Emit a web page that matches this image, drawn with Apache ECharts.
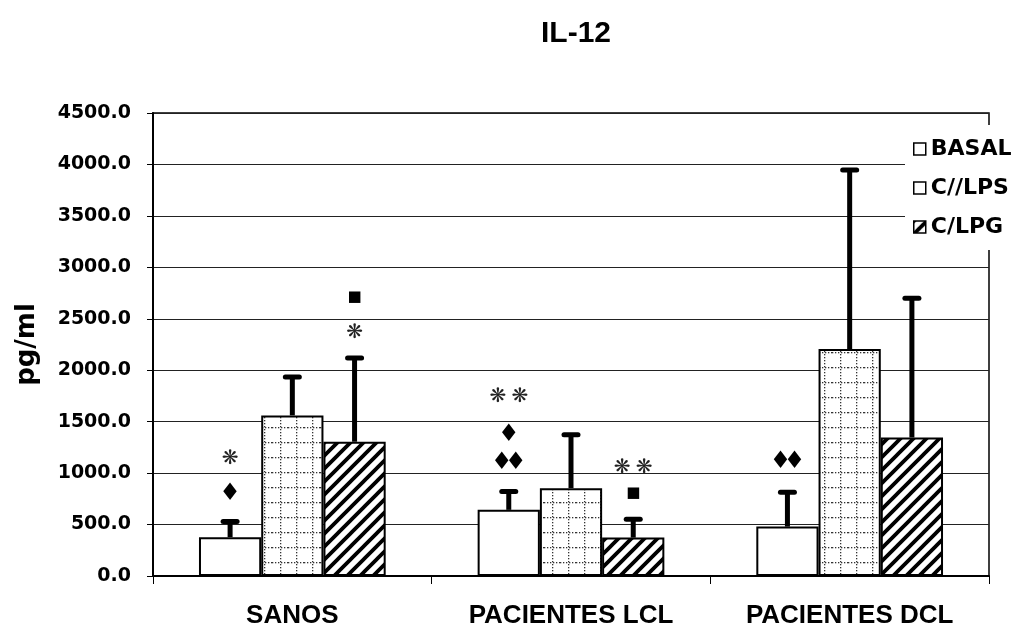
<!DOCTYPE html>
<html>
<head>
<meta charset="utf-8">
<script src="https://cdn.jsdelivr.net/npm/echarts@6/dist/echarts.min.js"></script>
<style>html,body{margin:0;padding:0;background:#fff}#chart{width:1021px;height:627px}</style>
</head>
<body>
<div id="chart"></div>
<script>
// ---- data ----
const categories = ['SANOS', 'PACIENTES LCL', 'PACIENTES DCL'];
const seriesNames = ['BASAL', 'C//LPS', 'C/LPG'];
const basal = [377, 643, 480];
const lps = [1561, 854, 2207];
const lpg = [1305, 373, 1347];
const basalErrTop = [529, 821, 815];
const lpsErrTop = [1935, 1373, 3947];
const lpgErrTop = [2120, 552, 2700];
// annotations: [categoryIndex, seriesIndex, value, text]
const annotations = [
  [0, 0, 798, '♦'],
  [0, 0, 1139, '❋'],
  [0, 2, 2366, '❋'],
  [0, 2, 2707, '■'],
  [1, 0, 1100, '♦♦'],
  [1, 0, 1373, '♦'],
  [1, 0, 1743, '❋❋'],
  [1, 2, 808, '■'],
  [1, 2, 1052, '❋❋'],
  [2, 0, 1110, '♦♦']
];
const yTicks = { min: 0, max: 4500, interval: 500 };

// ---- patterns ----
function dotGrid() {
  const c = document.createElement('canvas');
  c.width = 16; c.height = 15;
  const g = c.getContext('2d');
  g.fillStyle = '#fff'; g.fillRect(0, 0, 16, 15);
  g.fillStyle = '#333';
  for (let x = 0; x < 16; x += 3) g.fillRect(x, 7, 1.3, 1.3);
  for (let y = 0; y < 15; y += 3) g.fillRect(8, y, 1.3, 1.3);
  return c;
}
function stripes() {
  const s = 13;
  const c = document.createElement('canvas');
  c.width = s; c.height = s;
  const g = c.getContext('2d');
  g.fillStyle = '#fff'; g.fillRect(0, 0, s, s);
  g.strokeStyle = '#000'; g.lineWidth = 3.8;
  g.beginPath();
  g.moveTo(-2, s + 2); g.lineTo(s + 2, -2);
  g.moveTo(-2, 2); g.lineTo(2, -2);
  g.moveTo(s - 2, s + 2); g.lineTo(s + 2, s - 2);
  g.stroke();
  return c;
}
const dotFill = { image: dotGrid(), repeat: 'repeat' };
const stripeFill = { image: stripes(), repeat: 'repeat' };
const fills = ['#ffffff', dotFill, stripeFill];

const values = [basal, lps, lpg];
const errTops = [basalErrTop, lpsErrTop, lpgErrTop];
const CAT_GAP = 0.33;

function barX(api, cat, s) {
  const band = api.size([1, 0])[0];
  const w = band * (1 - CAT_GAP) / 3;
  return api.coord([cat, 0])[0] + (s - 1) * w;
}

const errData = [];
values.forEach((arr, s) => arr.forEach((v, i) => errData.push([i, s, v, errTops[s][i]])));

const chart = echarts.init(document.getElementById('chart'));
chart.setOption({
  animation: false,
  backgroundColor: '#fff',
  title: {
    text: 'IL-12', left: 571, top: 14, textAlign: 'center',
    textStyle: { fontFamily: 'Liberation Sans', fontWeight: 'bold', fontSize: 30, color: '#000' }
  },
  grid: { left: 153, right: 32, top: 113, bottom: 51, containLabel: false, outerBoundsMode: 'none', show: true, borderColor: '#000', borderWidth: 1.5, backgroundColor: 'transparent' },
  legend: {
    orient: 'vertical', left: 905, top: 125, padding: [13, 2, 12, 8],
    backgroundColor: '#fff', itemWidth: 12, itemHeight: 12, itemGap: 17,
    icon: 'rect',
    textStyle: { fontFamily: 'DejaVu Sans', fontWeight: 'bold', fontSize: 22, color: '#000', lineHeight: 22 },
    data: [
      { name: 'BASAL', itemStyle: { color: '#fff', borderColor: '#000', borderWidth: 1.5 } },
      { name: 'C//LPS', itemStyle: { color: '#fff', borderColor: '#000', borderWidth: 1.5 } },
      { name: 'C/LPG', itemStyle: { color: stripeFill, borderColor: '#000', borderWidth: 1.5 } }
    ]
  },
  xAxis: {
    type: 'category', data: categories, boundaryGap: true,
    axisLine: { lineStyle: { color: '#000', width: 2 } },
    axisTick: { show: true, length: 8, lineStyle: { color: '#000', width: 1 } },
    axisLabel: { margin: 27, fontFamily: 'Liberation Sans', fontWeight: 'bold', fontSize: 26, color: '#000' }
  },
  yAxis: {
    type: 'value', min: yTicks.min, max: yTicks.max, interval: yTicks.interval,
    name: 'pg/ml', nameLocation: 'middle', nameRotate: 90, nameGap: 113,
    nameTextStyle: { fontFamily: 'DejaVu Sans', fontWeight: 'bold', fontSize: 26, color: '#000' },
    axisLine: { show: true, lineStyle: { color: '#000', width: 2 } },
    axisTick: { show: true, length: 6, lineStyle: { color: '#000', width: 1 } },
    axisLabel: { margin: 22, formatter: v => v.toFixed(1), fontFamily: 'DejaVu Sans', fontWeight: 'bold', fontSize: 19, color: '#000' },
    splitLine: { show: true, lineStyle: { color: '#222', width: 1 } }
  },
  series: [
    ...seriesNames.map((n, s) => ({
      name: n, type: 'bar', data: values[s],
      barGap: '0%', barCategoryGap: (CAT_GAP * 100) + '%',
      itemStyle: { color: fills[s], borderColor: '#000', borderWidth: 2 },
      z: 2
    })),
    {
      type: 'custom', name: 'err', data: errData, z: 5, silent: true,
      renderItem: (params, api) => {
        const cat = api.value(0), s = api.value(1);
        const x = barX(api, cat, s);
        const y0 = api.coord([cat, api.value(2)])[1];
        const y1 = api.coord([cat, api.value(3)])[1];
        const st = { stroke: '#000', lineWidth: 5, lineCap: 'round' };
        return {
          type: 'group', children: [
            { type: 'line', shape: { x1: x, y1: y0, x2: x, y2: y1 }, style: { stroke: '#000', lineWidth: 5 } },
            { type: 'line', shape: { x1: x - 7, y1: y1, x2: x + 7, y2: y1 }, style: st }
          ]
        };
      }
    },
    {
      type: 'custom', name: 'ann', data: annotations, z: 6, silent: true,
      renderItem: (params, api) => {
        const a = annotations[params.dataIndex];
        const cx = barX(api, a[0], a[1]);
        const y = api.coord([a[0], a[2]])[1];
        const chars = Array.from(a[3]);
        const isStar = chars[0] === '❋';
        const isSq = chars[0] === '■';
        const step = isStar ? 22 : 14;
        const children = chars.map((ch, k) => ({
          type: 'text',
          x: cx + (k - (chars.length - 1) / 2) * step,
          y: y,
          style: {
            text: ch, align: 'center', verticalAlign: 'middle',
            font: 'bold ' + (isStar ? 20 : (isSq ? 15 : 24)) + 'px "DejaVu Sans"',
            fill: isStar ? '#222' : '#000'
          }
        }));
        return { type: 'group', children: children };
      }
    }
  ]
});
</script>
</body>
</html>
